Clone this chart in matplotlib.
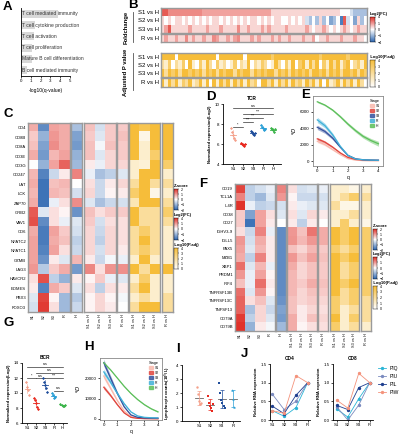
import numpy as np
import matplotlib.pyplot as plt
import matplotlib.patches as mpatches
from matplotlib.colors import LinearSegmentedColormap, FuncNorm, Normalize
from matplotlib.cm import ScalarMappable
from matplotlib.lines import Line2D

plt.rcParams['font.family'] = ['Liberation Sans', 'DejaVu Sans']

# ---- data ----
a_terms = ['T cell mediated immunity', 'T cell cytokine production', 'T cell activation',
           'T cell proliferation', 'Mature B cell differentiation', 'B cell mediated immunity']
a_vals = [3.8, 1.4, 1.3, 1.1, 1.1, 0.6]

b_rows = ['S1 vs H', 'S2 vs H', 'S3 vs H', 'R vs H']
# fold change levels, one char per gene (see FC_LEVELS)
b_fc = ['8877777777' '7766666666' '6666666666' '6655555555' '5555555555' '5544432222',
        '5454554545' '4545455454' '5454545545' '4545544545' '4532425241' '2408341524',
        '5685555565' '5556555655' '5575565556' '5655556555' '5565455654' '5456545655',
        '5655655756' '5565576556' '5675556565' '5565655655' '5655645565' '5565556554']
b_p = ['4444044444' '4444440444' '4444044444' '4434444444' '4444443444' '4444344444',
       '2130213041' '0314203120' '1302140213' '2014203140' '3414240314' '2413402314',
       '4243424434' '3424342434' '4243442434' '3442434243' '4342443424' '3424434243',
       '4142413241' '2414041424' '1424142304' '4241424142' '3142414041' '2414241420']
FC_LEVELS = {'0': -3, '1': -1.5, '2': -0.8, '3': -0.4, '4': 0, '5': 0.4, '6': 0.9, '7': 1.4, '8': 2.8}

c_genes = ['CD4', 'CD8B', 'CD8A', 'CD3E', 'CD3G', 'CD247', 'LAT', 'LCK', 'ZAP70', 'GRB2', 'VAV1',
           'CD6', 'NFATC2', 'NFATC1', 'GZMB', 'LAG3', 'HAVCR2', 'EOMES', 'PBX3', 'FOXO3']
c_z = [[0.8, -1.5, 0.9, 0.8], [0.5, -1.0, 1.0, 0.8], [0.6, -1.2, 1.1, 0.8], [0.8, -1.3, 0.7, 0.9],
       [0.0, -1.0, 0.9, 1.5], [0.7, -1.6, -0.5, 0.2], [0.8, -1.8, 0.6, 0.7], [0.7, -1.8, 0.7, 0.6],
       [0.8, -1.8, -0.2, 0.3], [1.6, -0.3, 0.3, 0.1], [1.7, -1.5, 0.3, -0.2], [0.8, -1.7, 0.9, 0.5],
       [0.9, -1.7, 0.8, 0.6], [0.9, -1.6, 0.9, 0.3], [0.9, -1.4, 0.2, -0.3], [1.0, -0.7, 0.5, 0.8],
       [0.3, 1.7, -0.6, -1.0], [0.2, -1.6, 0.8, 0.5], [-0.3, 1.8, 0.1, -0.9], [-0.4, 1.9, 0.3, -0.9]]
c_zh = [-0.8, -1.2, -1.3, -1.0, -0.9, 1.2, 0.0, -0.4, 1.1, -1.4, -0.3, -0.4, -0.6, -0.5, 0.7,
        -1.3, 0.2, -0.3, -0.7, -0.5]
c_fc = [[0.6, -0.4, 0.5], [0.5, -0.3, 0.5], [0.6, -0.1, 0.6], [0.6, -0.3, 0.4], [0.2, -0.2, 0.4],
        [-0.2, -0.8, -0.6], [0.3, -0.5, 0.2], [0.4, -0.5, 0.1], [-0.3, -0.8, -0.5], [0.6, 0.3, 0.5],
        [0.5, -0.4, 0.3], [0.4, -0.5, 0.4], [0.4, -0.6, 0.4], [0.4, -0.4, 0.4], [0.2, -0.5, -0.1],
        [1.5, 0.3, 1.1], [0.1, 0.5, -0.2], [0.3, -0.6, 0.3], [0.1, 0.4, 0.1], [0.1, 0.4, 0.2]]
c_fcr = [0.5, 0.6, 0.5, 0.5, 0.4, -0.3, 0.4, 0.2, -0.4, 0.5, 0.3, 0.3, 0.3, 0.2, -0.2, 1.2,
         -0.3, 0.2, -0.1, 0.0]
c_p = [[4, 3.5, 4], [4, 0.5, 4], [4, 1, 4], [4, 1, 3], [1, 0.8, 4], [1, 4, 4], [2, 4, 2],
       [3, 4, 0.5], [1.5, 4, 4], [4, 2, 2], [4, 2, 2], [2, 3, 2], [2, 4, 2], [2, 3, 2], [1, 4, 1],
       [4, 2, 4], [1, 3, 1], [2, 4, 1], [1, 2, 1], [2, 4, 4]]
c_pr = [4, 4, 4, 4, 3, 1, 2, 1, 2, 3, 2, 1, 1, 1, 1, 4, 1, 1, 2, 2]

f_genes = ['CD19', 'TCL1A', 'IL4R', 'CD38', 'CD27', 'IGHV3-9', 'IGLL5', 'PAX5', 'MZB1', 'XBP1',
           'PRDM1', 'IRF4', 'TNFRSF13B', 'TNFRSF13C', 'TNFSF13', 'CD79A', 'CD79B']
f_z = [[1.8, -0.6, -0.4, -0.2], [1.2, -0.6, -0.9, -0.3], [2.0, -0.2, -0.6, -0.5], [0.5, -1.2, 0.9, 0.3],
       [0.5, -1.8, 0.9, 0.2], [0.3, -0.5, 1.2, -0.2], [1.0, -0.4, 0.8, 0.2], [0.9, -0.3, 0.7, 0.2],
       [0.8, -0.6, 1.2, 0.2], [1.4, -0.3, 0.7, -0.2], [1.0, -0.2, 0.9, 0.1], [0.6, -0.2, 1.4, 0.2],
       [1.4, -0.3, 1.0, 0.1], [1.5, 0.3, 0.6, -0.3], [1.5, -0.8, 0.4, -0.5], [1.9, -0.6, 0.4, -0.3],
       [2.0, -1.0, 0.2, -0.1]]
f_zh = [1.2, 1.0, -0.4, -0.3, 0.0, -1.5, -1.5, -1.5, -1.5, -1.5, -1.5, -1.5, -1.5, -1.4, -1.2, -1.3, -0.9]
f_fc = [[0.3, -0.4, -0.3], [0.1, -0.5, -0.5], [0.2, -0.2, -0.3], [0.3, -0.3, 0.4], [0.2, -0.6, 0.2],
        [1.0, 0.6, 2.0], [1.1, 0.7, 1.0], [0.6, 0.4, 0.7], [1.0, 0.6, 0.9], [0.8, 0.4, 0.6],
        [0.7, 0.4, 0.6], [0.7, 0.5, 0.8], [0.7, 0.4, 0.6], [0.6, 0.4, 0.5], [0.6, 0.2, 0.4],
        [0.8, 0.2, 0.6], [0.8, 0.1, 0.3]]
f_fcr = [-0.2, -0.4, -0.3, 0.2, 0.0, 0.8, 0.8, 0.5, 0.6, 0.5, 0.5, 0.6, 0.5, 0.4, 0.3, 0.4, 0.3]
f_p = [[1, 1, 0.5], [1, 2, 3], [2, 0.5, 0.5], [1, 1, 2], [1, 3, 1], [4, 3, 4], [4, 3, 4], [3, 2, 3],
       [4, 3, 4], [4, 2, 3], [4, 2, 3], [4, 3, 4], [4, 2, 3], [3, 2, 3], [3, 1, 2], [4, 1, 3], [3, 1, 2]]
f_pr = [1, 2, 1, 1, 0.5, 3, 3, 3, 3, 3, 3, 3, 3, 2, 2, 2, 1]

groups = ['S1', 'S2', 'S3', 'R', 'H']
d_vals = [[7.6, 7.2, 6.9, 6.6, 6.4], [6.1, 6.0, 5.9, 5.8, 6.0], [7.3, 7.2, 7.0, 6.9, 7.1],
          [7.9, 7.7, 7.6, 7.4, 7.5], [7.6, 7.5, 7.4, 7.2, 7.5]]
d_sig = [(0, 1, 7.7, '*'), (1, 2, 8.2, '***'), (1, 3, 8.6, '***'), (1, 4, 9.0, '***'), (0, 4, 9.6, 'n.s')]
g_vals = [[11.5, 10.8, 10.4, 9.7], [9.3, 9.1, 8.7, 8.2, 7.9], [12.0, 11.5, 11.1, 10.7, 10.2],
          [10.0, 9.7, 9.3, 9.5], [8.5, 8.4, 8.3, 8.3, 8.4]]
g_sig = [(3, 4, 10.3, 'n.s'), (0, 1, 12.0, '*'), (1, 2, 12.0, 'n.s'), (2, 4, 12.0, '***'),
         (1, 4, 12.7, 'n.s'), (0, 4, 13.5, 'n.s')]

q = [0, 0.5, 1, 1.5, 2, 2.5, 3, 3.5, 4]
e_curves = {'S1': [2400, 2000, 1400, 800, 300, 120, 60, 40, 30],
            'S2': [2700, 2300, 1700, 1000, 450, 200, 120, 100, 90],
            'S3': [4100, 3600, 2800, 1700, 700, 280, 160, 120, 100],
            'R': [5000, 4300, 3200, 1800, 700, 250, 150, 120, 100],
            'H': [7200, 6800, 6200, 5400, 4500, 3700, 3000, 2500, 2100]}
e_band_h = [100, 100, 120, 150, 180, 200, 220, 250, 300]
h_curves = {'S1': [21000, 15000, 9000, 4000, 1200, 400, 200, 150, 100],
            'S2': [15500, 11500, 7000, 3000, 800, 300, 200, 150, 100],
            'S3': [27500, 20000, 12500, 6000, 2000, 800, 500, 400, 400],
            'R': [23000, 18000, 12500, 7500, 3500, 1500, 800, 600, 500],
            'H': [27500, 24000, 20000, 16000, 12500, 9500, 7000, 5000, 3500]}
h_band_h = [300, 300, 300, 300, 300, 300, 300, 300, 300]

i_groups = ['S1', 'S2', 'S3', 'R']
i_vals = [[2.4, 1.9, 1.4, 1.2, 1.3], [1.8, 1.3, 1.1, 0.9, 0.7, 1.2],
          [2.7, 2.0, 1.5, 1.3, 1.1, 0.9], [2.2, 1.6, 1.0]]

j_stages = ['S1', 'S2', 'S3', 'R']
j_pat = ['PIQ', 'PIU', 'PIL', 'PIW']
j_cd4 = [[0.25, 0.10, 0.33, 1.0], [0.69, 0.28, 0.50, 1.0], [0.37, 0.17, 0.66, 1.0], [0.25, 0.18, 1.19, 1.0]]
j_cd8 = [[0.29, 0.08, 0.57, 1.0], [0.35, 0.0, 0.40, 1.0], [0.39, 0.28, 0.87, 1.0], [0.53, 0.32, 1.25, 1.0]]

# ---- style ----
W, H = 403, 440
fig = plt.figure(figsize=(W / 100, H / 100), dpi=100)
TS = 3.2
grp_col = ['#f4a08a', '#e8281e', '#1f4d9b', '#2a9fd6', '#3cb44b']
stage_col = {'S1': '#f9b9ad', 'S2': '#e0443c', 'S3': '#34519e', 'R': '#3fb0d8', 'H': '#5cbf5a'}
j_col = ['#2bb5d6', '#7b8bbf', '#1f3f8f', '#f4937c']

zcmap = LinearSegmentedColormap.from_list('z', ['#2b65b0', '#ffffff', '#e0322a'])
pcmap = LinearSegmentedColormap.from_list('p', ['#ffffff', '#f6bd3a'])
znorm = Normalize(-2, 2)
fcnorm = FuncNorm((lambda x: np.interp(x, [-4, -1, 0, 1, 4], [0, .25, .5, .75, 1]),
                   lambda y: np.interp(y, [0, .25, .5, .75, 1], [-4, -1, 0, 1, 4])), vmin=-4, vmax=4)
pnorm = Normalize(0, 4)


def axp(x, y, w, h):
    return fig.add_axes([x / W, 1 - (y + h) / H, w / W, h / H])


def letter(x, y, s):
    fig.text(x / W, 1 - y / H, s, fontsize=9.5, fontweight='bold', va='center', ha='left')


def block(x, y, w, h, data, cmap, norm, xlabels=None):
    ax = axp(x, y, w, h)
    ax.imshow(np.asarray(data, dtype=float), cmap=cmap, norm=norm, aspect='auto', interpolation='nearest')
    ax.set_yticks([])
    if xlabels:
        ax.set_xticks(range(len(xlabels)))
        ax.set_xticklabels(xlabels, rotation=90, fontsize=2.8)
        ax.tick_params(axis='x', length=0, pad=1.5)
    else:
        ax.set_xticks([])
    for s in ax.spines.values():
        s.set_color('#9a9a9a')
        s.set_linewidth(1.0)
    return ax


def rowlabels(ax, labels, fs):
    ax.set_yticks(range(len(labels)))
    ax.set_yticklabels(labels, fontsize=fs)
    ax.tick_params(axis='y', length=0, pad=1.5)


def cbar(x, y, w, h, cmap, norm, ticks, title):
    fig.text(x / W, 1 - (y - 3) / H, title, fontsize=3, fontweight='bold', va='center', ha='left')
    cax = axp(x, y, w, h)
    cb = fig.colorbar(ScalarMappable(norm=norm, cmap=cmap), cax=cax, ticks=ticks)
    cb.ax.tick_params(labelsize=2.6, length=1, width=0.3, pad=0.8)
    cb.outline.set_linewidth(0.3)


def clean(ax):
    for s in ['top', 'right']:
        ax.spines[s].set_visible(False)
    for s in ['left', 'bottom']:
        ax.spines[s].set_linewidth(0.6)
    ax.tick_params(labelsize=TS, length=1.5, width=0.5, pad=1)


# ---- A ----
letter(3, 7, 'A')
ax = axp(21, 8, 49, 68)
ax.barh(range(len(a_terms)), a_vals, height=0.72, color='#d8d8d8')
for i, t in enumerate(a_terms):
    ax.text(0.15, i, t, fontsize=3.6, va='center', ha='left', color='#333333')
ax.set_xlim(0, 5)
ax.set_ylim(len(a_terms) - 0.5, -0.5)
ax.set_yticks([])
ax.set_xticks(range(6))
clean(ax)
ax.set_xlabel('-log10(q-value)', fontsize=3.6, labelpad=3)

# ---- B ----
letter(128, 5, 'B')
fc_mat = np.array([[FC_LEVELS[c] for c in s] for s in b_fc])
p_mat = np.array([[int(c) for c in s] for s in b_p])
ax = block(161, 8, 206, 25, fc_mat[:3], zcmap, fcnorm)
rowlabels(ax, b_rows[:3], 4.3)
ax = block(161, 34, 206, 8, fc_mat[3:], zcmap, fcnorm)
rowlabels(ax, b_rows[3:], 4.3)
ax = block(161, 53, 206, 24, p_mat[:3], pcmap, pnorm)
rowlabels(ax, b_rows[:3], 4.3)
ax = block(161, 78, 206, 9, p_mat[3:], pcmap, pnorm)
rowlabels(ax, b_rows[3:], 4.3)
fig.text(126 / W, 1 - 27 / H, 'Foldchange', rotation=90, fontsize=4.2, fontweight='bold', va='center', ha='center')
fig.text(126 / W, 1 - 72 / H, 'Adjusted P value', rotation=90, fontsize=4.2, fontweight='bold', va='center', ha='center')
fig.add_artist(Line2D([133 / W, 133 / W], [1 - 12 / H, 1 - 42 / H], color='#555555', lw=0.6))
fig.add_artist(Line2D([133 / W, 133 / W], [1 - 53 / H, 1 - 90 / H], color='#555555', lw=0.6))
cbar(370, 17, 5, 25, zcmap, fcnorm, [-4, -1, 0, 1, 4], 'Log2(FC)')
cbar(370, 60, 5, 27, pcmap, pnorm, [0, 1, 2, 3, 4], '-Log10(P.adj)')

# ---- C ----
letter(3, 114, 'C')
top, hh = 123, 189
vs = ['S1 vs H', 'S2 vs H', 'S3 vs H']
ax = block(28, top, 42, hh, c_z, zcmap, znorm, ['S1', 'S2', 'S3', 'R'])
rowlabels(ax, c_genes, 3.0)
block(71, top, 11, hh, np.array(c_zh)[:, None], zcmap, znorm, ['H'])
block(84, top, 32, hh, c_fc, zcmap, fcnorm, vs)
block(117, top, 11, hh, np.array(c_fcr)[:, None], zcmap, fcnorm, ['R vs H'])
block(129, top, 31, hh, c_p, pcmap, pnorm, vs)
block(162, top, 11, hh, np.array(c_pr)[:, None], pcmap, pnorm, ['R vs H'])
cbar(174, 189, 4, 21, zcmap, znorm, [-2, -1, 0, 1, 2], 'Z-score')
cbar(174, 218, 4, 22, zcmap, fcnorm, [-4, -1, 0, 1, 4], 'Log2(FC)')
cbar(174, 248, 4, 21, pcmap, pnorm, [0, 1, 2, 3, 4], '-Log10(P.adj)')

# ---- F ----
letter(199, 184, 'F')
top, hh = 184, 147
ax = block(235, top, 40, hh, f_z, zcmap, znorm, ['S1', 'S2', 'S3', 'R'])
rowlabels(ax, f_genes, 3.0)
block(276, top, 10, hh, np.array(f_zh)[:, None], zcmap, znorm, ['H'])
block(287, top, 30, hh, f_fc, zcmap, fcnorm, vs)
block(318, top, 10, hh, np.array(f_fcr)[:, None], zcmap, fcnorm, ['R vs H'])
block(330, top, 29, hh, f_p, pcmap, pnorm, vs)
block(361, top, 10, hh, np.array(f_pr)[:, None], pcmap, pnorm, ['R vs H'])
cbar(373, 229, 4, 21, zcmap, znorm, [-2, -1, 0, 1, 2], 'Z-score')
cbar(373, 257, 4, 22, zcmap, fcnorm, [-4, -1, 0, 1, 4], 'Log2(FC)')
cbar(373, 286, 4, 23, pcmap, pnorm, [0, 1, 2, 3, 4], '-Log10(P.adj)')


# ---- D / G dot plots ----
def dotplot(ax, vals, sigs, ylim, yticks, title):
    for i, v in enumerate(vals):
        n = len(v)
        xs = i + (np.arange(n) - (n - 1) / 2) * 0.12
        ax.scatter(xs, v, s=2.5, color=grp_col[i], marker='D', linewidths=0, zorder=3)
        m = np.mean(v)
        ax.plot([i - 0.3, i + 0.3], [m, m], color=grp_col[i], lw=0.6)
        ax.plot([i, i], [m - np.std(v), m + np.std(v)], color=grp_col[i], lw=0.4)
    for a, b, y, t in sigs:
        ax.plot([a, b], [y, y], color='#333333', lw=0.5)
        ax.text((a + b) / 2, y + 0.05, t, fontsize=2.6, ha='center', va='bottom')
    ax.set_ylim(*ylim)
    ax.set_yticks(yticks)
    ax.set_xticks(range(len(groups)))
    ax.set_xticklabels(groups)
    ax.set_title(title, fontsize=3.4, fontweight='bold', pad=3)
    ax.set_ylabel('Normalized expression(Log2)', fontsize=3.0, fontweight='bold', labelpad=2)
    clean(ax)


letter(206, 97, 'D')
ax = axp(223, 104, 58, 60)
ax.set_xlim(-1, 4.8)
dotplot(ax, d_vals, d_sig, (4, 10), [4, 6, 8, 10], 'TCR')

letter(3, 323, 'G')
ax = axp(22, 363, 45, 60)
ax.set_xlim(-0.6, 4.5)
dotplot(ax, g_vals, g_sig, (6, 14), [6, 8, 10, 12, 14], 'BCR')


# ---- E / H diversity curves ----
def divplot(ax, curves, band_h, ylim, yticks):
    for k, v in curves.items():
        v = np.array(v, dtype=float)
        w = np.array(band_h) if k == 'H' else v * 0.06 + 20
        ax.fill_between(q, v - w, v + w, color=stage_col[k], alpha=0.45, lw=0)
        ax.plot(q, v, color=stage_col[k], lw=0.9)
    ax.set_xlim(-0.28, 4.3)
    ax.set_ylim(*ylim)
    ax.set_yticks(yticks)
    ax.set_xticks(range(5))
    ax.set_xlabel('q', fontsize=3.6, labelpad=1)
    ax.set_ylabel('$^{q}D$', fontsize=4, labelpad=1)
    for s in ax.spines.values():
        s.set_color('#888888')
        s.set_linewidth(0.6)
    ax.tick_params(labelsize=TS, length=1.5, width=0.5, pad=1)
    hs = [mpatches.Patch(color=stage_col[k], alpha=0.8, label=k) for k in ['S1', 'S2', 'S3', 'R', 'H']]
    ax.legend(handles=hs, title='Stage', loc='upper right', fontsize=2.4, title_fontsize=2.8,
              frameon=False, handlelength=1.2, handleheight=0.9, labelspacing=0.3, borderaxespad=0.4)


letter(301, 95, 'E')
ax = axp(313, 96, 70, 70)
divplot(ax, e_curves, e_band_h, (-600, 7900), [0, 2000, 4000, 6000])

letter(84, 347, 'H')
ax = axp(100, 358, 62, 62)
divplot(ax, h_curves, h_band_h, (-500, 29800), [0, 10000, 20000])

# ---- I ----
letter(176, 349, 'I')
ax = axp(182, 365, 58, 56)
mk = ['o', 's', 's', '^']
for i, v in enumerate(i_vals):
    n = len(v)
    xs = i + (np.arange(n) - (n - 1) / 2) * 0.1
    ax.scatter(xs, v, s=3, color=grp_col[i], marker=mk[i], linewidths=0, zorder=3)
    m, sd = np.mean(v), np.std(v, ddof=1)
    ax.plot([i - 0.35, i + 0.35], [m, m], color='#666666', lw=0.6)
    ax.errorbar(i, m, yerr=sd, color=grp_col[i], lw=0.5, capsize=1.2, capthick=0.5)
ax.set_xlim(-1.5, 3.6)
ax.set_ylim(0, 4)
ax.set_yticks(range(5))
ax.set_xticks(range(4))
ax.set_xticklabels(i_groups)
ax.set_ylabel('Lymphocyte counts(10$^9$/L)', fontsize=3.0, fontweight='bold', labelpad=2)
clean(ax)

# ---- J ----
letter(241, 354, 'J')
for data, x0, xl, ttl in [(j_cd4, 270, (-0.2, 3.2), 'CD4'), (j_cd8, 333, (-0.35, 3.3), 'CD8')]:
    ax = axp(x0, 364, 40, 56)
    for k, v in enumerate(data):
        ax.plot(range(4), v, color=j_col[k], lw=0.6, marker='o', ms=1.4, label=j_pat[k])
    ax.set_xlim(*xl)
    ax.set_ylim(0, 1.5)
    ax.set_yticks([0, 0.5, 1.0, 1.5])
    ax.set_xticks(range(4))
    ax.set_xticklabels(j_stages)
    ax.set_title(ttl, fontsize=3.4, fontweight='bold', pad=3)
    ax.set_ylabel('Relative RNA expression', fontsize=3.0, fontweight='bold', labelpad=2)
    clean(ax)
ax.legend(loc='upper left', bbox_to_anchor=(1.02, 1.05), fontsize=3.6, frameon=False,
          handlelength=1.5, labelspacing=0.6)

fig.savefig('out.png', dpi=100)
